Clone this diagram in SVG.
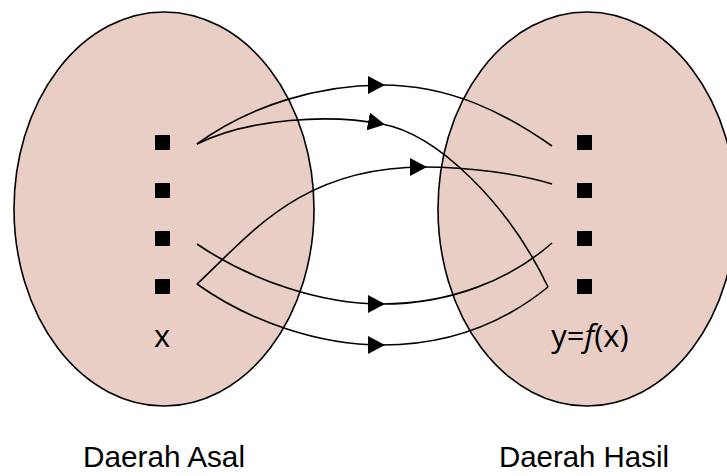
<svg xmlns="http://www.w3.org/2000/svg" width="727" height="476" viewBox="0 0 727 476">
<style>
.set{fill:#e9cec5;stroke:#000;stroke-width:1.6}
.dot{fill:#000}
.lbl{font-family:"Open Sans","Liberation Sans",sans-serif;font-size:31px;fill:#000}
.cap{font-family:"Liberation Sans",Arial,sans-serif;font-size:30px;fill:#000}
.edge{fill:none;stroke:#000;stroke-width:1.6;marker-mid:url(#tri)}
</style>
<defs>
<marker id="tri" markerUnits="userSpaceOnUse" markerWidth="17" markerHeight="18" viewBox="0 0 17 18" refX="14" refY="9" orient="auto">
<path d="M0,0 L17,9 L0,18 z" fill="#000"/>
</marker>
</defs>
<g id="domain">
<ellipse class="set" cx="164" cy="209" rx="150" ry="197"/>
<rect class="dot" x="155" y="135" width="15" height="15"/>
<rect class="dot" x="155" y="183" width="15" height="15"/>
<rect class="dot" x="155" y="231" width="15" height="15"/>
<rect class="dot" x="155" y="279" width="15" height="15"/>
<text class="lbl" x="162" y="347" text-anchor="middle">x</text>
<text class="cap" x="164" y="467" text-anchor="middle" textLength="162" lengthAdjust="spacingAndGlyphs">Daerah Asal</text>
</g>
<g id="range">
<ellipse class="set" cx="587" cy="209" rx="149" ry="197"/>
<rect class="dot" x="577" y="135" width="15" height="15"/>
<rect class="dot" x="577" y="183" width="15" height="15"/>
<rect class="dot" x="577" y="231" width="15" height="15"/>
<rect class="dot" x="577" y="279" width="15" height="15"/>
<text class="lbl" x="590" y="347" text-anchor="middle">y=<tspan font-style="italic">f</tspan>(x)</text>
<text class="cap" x="584" y="467" text-anchor="middle" textLength="170" lengthAdjust="spacingAndGlyphs">Daerah Hasil</text>
</g>
<g id="connectors">
<path class="edge" d="M197,144 C250,105 320,85 382,85 C450,85 505,113 552,146"/>
<path class="edge" d="M197,144 C250,118 330,114 382,124 C437,134 508,203 548,287"/>
<path class="edge" d="M197,244 C250,280 320,304 382,304 C450,304 510,280 552,243"/>
<path class="edge" d="M197,284 C250,235 300,167 424,167 C470,167 520,174 552,184"/>
<path class="edge" d="M197,284 C250,322 320,345 382,345 C450,345 505,322 548,287"/>
</g>
</svg>
